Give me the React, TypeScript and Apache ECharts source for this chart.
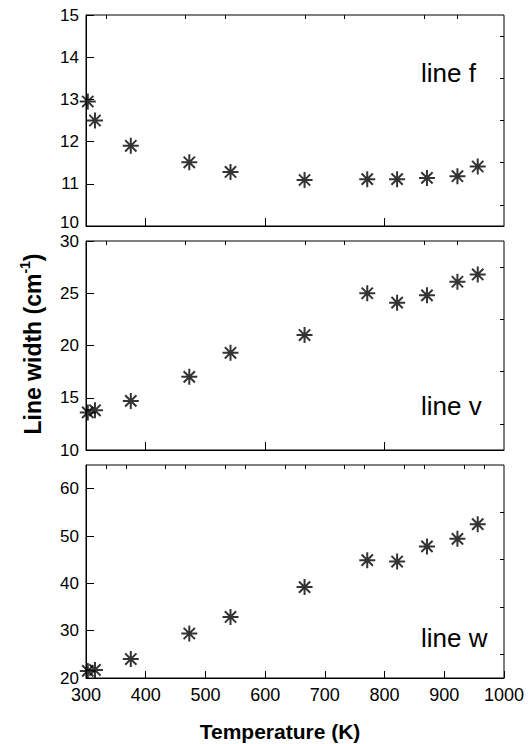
import React, { useEffect, useRef } from "react";
import * as echarts from "echarts";

const temperatures = [303, 315, 375, 473, 542, 666, 771, 821, 871, 922, 956];
const lineF = [12.95, 12.5, 11.9, 11.51, 11.28, 11.09, 11.11, 11.11, 11.14, 11.18, 11.41];
const lineV = [13.6, 13.8, 14.7, 17.0, 19.3, 21.0, 25.0, 24.1, 24.8, 26.1, 26.8];
const lineW = [21.5, 21.7, 24.0, 29.4, 32.9, 39.2, 44.9, 44.6, 47.8, 49.4, 52.5];

const panelNames = ["line f", "line v", "line w"];

const xTickLabels = [300, 400, 500, 600, 700, 800, 900, 1000];
const xMinorBottom = [333.3, 366.7, 433.3, 466.7, 533.3, 566.7, 633.3, 666.7, 733.3, 766.7, 833.3, 866.7, 933.3, 966.7];
const xMajorUpper = [400, 600, 800];
const xMinorUpper = [333.3, 466.7, 533.3, 666.7, 733.3, 866.7, 922];

const yTicksF = [10, 11, 12, 13, 14, 15];
const yMinorF = [10.5, 11.5, 12.5, 13.5, 14.5];
const yTicksV = [10, 15, 20, 25, 30];
const yMinorV = [12.5, 17.5, 22.5, 27.5];
const yTicksW = [20, 30, 40, 50, 60];
const yMinorW = [25, 35, 45, 55];

const yRanges = [
  [10, 15],
  [10, 30],
  [20, 65],
];

const FONT = "'Liberation Sans', Arial, sans-serif";
const STAR = "path://M10,0L10,20M0,10L20,10M2.93,2.93L17.07,17.07M2.93,17.07L17.07,2.93";

export default function App() {
  const ref = useRef<HTMLDivElement>(null);

  useEffect(() => {
    if (!ref.current) return;
    const chart = echarts.init(ref.current, null, { renderer: "svg" });

    const grids = [
      { left: 86, width: 418, top: 15, height: 211 },
      { left: 86, width: 418, top: 241, height: 209 },
      { left: 86, width: 418, top: 465, height: 213 },
    ].map((g) => ({ ...g, show: true, borderColor: "#000", borderWidth: 1, backgroundColor: "transparent" }));

    const black = { color: "#000", width: 1 };
    const xAxis: any[] = [];
    const yAxis: any[] = [];
    const yMajors = [yTicksF, yTicksV, yTicksW];
    const yMinors = [yMinorF, yMinorV, yMinorW];
    const fmt = (v: number) => String(v);

    for (let i = 0; i < 3; i++) {
      const isBottom = i === 2;
      const isTop = i === 0;
      xAxis.push({
        type: "value",
        gridIndex: i,
        min: 300,
        max: 1000,
        axisLine: { show: true, lineStyle: black },
        axisTick: { show: true, inside: true, length: isBottom ? 7 : 8, customValues: isBottom ? xTickLabels : xMajorUpper, lineStyle: black },
        axisLabel: isBottom
          ? { show: true, customValues: xTickLabels, formatter: fmt, color: "#000", fontSize: 18, fontFamily: FONT, margin: 8 }
          : { show: false },
        splitLine: { show: false },
      });
      xAxis.push({
        type: "value",
        gridIndex: i,
        min: 300,
        max: 1000,
        axisLine: { show: false },
        axisTick: { show: true, inside: true, length: 4, customValues: isBottom ? xMinorBottom : xMinorUpper, lineStyle: black },
        axisLabel: { show: false },
        splitLine: { show: false },
      });
      const minVal = yRanges[i][0];
      yAxis.push({
        type: "value",
        gridIndex: i,
        min: yRanges[i][0],
        max: yRanges[i][1],
        axisLine: { show: true, lineStyle: black },
        axisTick: { show: true, inside: true, length: 8, customValues: yMajors[i], lineStyle: black },
        axisLabel: {
          show: true,
          customValues: yMajors[i],
          formatter: isTop ? (v: number) => (v === minVal ? "{lo|" + v + "}" : String(v)) : fmt,
          color: "#000",
          fontSize: 17,
          fontFamily: FONT,
          margin: 7,
          rich: { lo: { fontSize: 17, fontFamily: FONT, color: "#000", padding: [0, 0, 7, 0] } },
        },
        splitLine: { show: false },
      });
      yAxis.push({
        type: "value",
        gridIndex: i,
        min: yRanges[i][0],
        max: yRanges[i][1],
        axisLine: { show: false },
        axisTick: { show: true, inside: true, length: 4, customValues: yMinors[i], lineStyle: black },
        axisLabel: { show: false },
        splitLine: { show: false },
      });
    }

    const seriesData = [lineF, lineV, lineW];
    const series = seriesData.map((arr, i) => ({
      type: "scatter",
      name: panelNames[i],
      xAxisIndex: 2 * i,
      yAxisIndex: 2 * i,
      clip: false,
      symbol: STAR,
      symbolSize: 16,
      itemStyle: { color: "rgba(0,0,0,0)", borderColor: "#000", borderWidth: 2 },
      data: temperatures.map((t, j) => [t, arr[j]]),
    }));

    const labelY = [73, 406, 638];
    const graphic: any[] = panelNames.map((name, i) => ({
      type: "text",
      left: 421,
      top: labelY[i] - 13,
      style: { text: name, fontSize: 26, fontFamily: FONT, fill: "#000" },
    }));
    graphic.push({
      type: "text",
      x: 280,
      y: 731,
      style: {
        text: "Temperature (K)",
        fontSize: 21,
        fontWeight: "bold",
        fontFamily: FONT,
        fill: "#000",
        align: "center",
        verticalAlign: "middle",
      },
    });
    graphic.push({
      type: "text",
      x: 31,
      y: 344,
      rotation: Math.PI / 2,
      style: {
        text: "{a|Line width (cm}{s|-1}{a|)}",
        align: "center",
        verticalAlign: "middle",
        fill: "#000",
        rich: {
          a: { fontSize: 23, fontWeight: "bold", fontFamily: FONT, fill: "#000", lineHeight: 26, verticalAlign: "bottom" },
          s: { fontSize: 14, fontWeight: "bold", fontFamily: FONT, fill: "#000", lineHeight: 26, verticalAlign: "top", padding: [0, 0, 11, 0] },
        },
      },
    });

    chart.setOption({
      animation: false,
      backgroundColor: "#fff",
      grid: grids,
      xAxis,
      yAxis,
      series,
      graphic,
    });

    return () => chart.dispose();
  }, []);

  return <div ref={ref} style={{ position: "fixed", left: 0, top: 0, width: 531, height: 744 }} />;
}
